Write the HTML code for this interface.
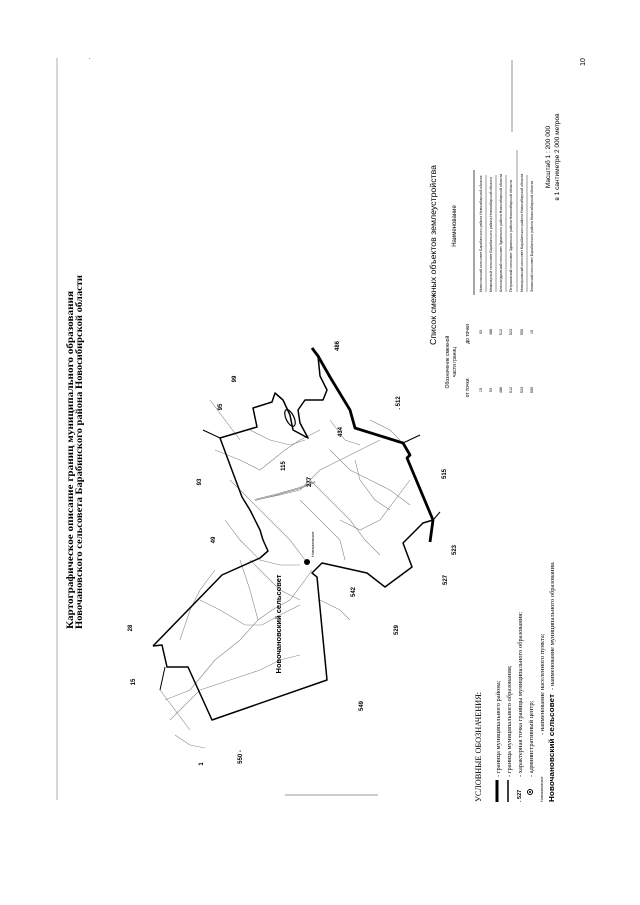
<!DOCTYPE html>
<html><head><meta charset="utf-8"><style>
html,body{margin:0;padding:0;background:#fff;}
svg{display:block;}
text{font-family:"Liberation Sans",sans-serif;fill:#000;}
.s{font-family:"Liberation Serif",serif;}
</style></head><body>
<svg width="640" height="905" viewBox="0 0 640 905" xmlns="http://www.w3.org/2000/svg">
<rect width="640" height="905" fill="#fff"/>
<!-- frame lines -->
<line x1="57" y1="58" x2="57" y2="800" stroke="#999" stroke-width="0.8"/>
<line x1="512" y1="60" x2="512" y2="132" stroke="#777" stroke-width="0.8"/>
<line x1="285" y1="795" x2="378" y2="795" stroke="#999" stroke-width="1"/>
<rect x="89" y="58" width="1" height="1" fill="#999"/>

<!-- titles -->
<text class="s" transform="translate(73,460) rotate(-90)" text-anchor="middle" font-size="9" font-weight="bold" textLength="338" lengthAdjust="spacingAndGlyphs">Картографическое описание границ муниципального образования</text>
<text class="s" transform="translate(82,452) rotate(-90)" text-anchor="middle" font-size="9" font-weight="bold" textLength="354" lengthAdjust="spacingAndGlyphs">Новочановского сельсовета Барабинского района Новосибирской области</text>

<!-- roads (gray) -->
<g fill="none" stroke="#888" stroke-width="0.6">
<polyline points="165,700 190,690 215,660 240,640 258,620 272,610 290,600 305,580 312,570"/>
<polyline points="170,720 185,705 200,690 230,680 260,670 280,660 300,655"/>
<polyline points="200,600 220,610 245,625 262,625 280,615 300,605"/>
<polyline points="240,560 250,590 258,620"/>
<polyline points="225,520 240,540 260,560 280,565 300,565"/>
<polyline points="230,480 250,500 270,520 290,540 305,560"/>
<polyline points="255,500 280,495 300,490 320,470 340,460 360,450 380,440"/>
<polyline points="215,450 240,460 260,470 285,450 300,440 320,430"/>
<polyline points="250,430 270,440 290,445 305,440"/>
<polyline points="310,480 330,500 350,520 365,540 380,555"/>
<polyline points="300,500 320,520 340,540 345,560"/>
<polyline points="330,450 350,470 370,480 390,490 410,505"/>
<polyline points="355,460 360,480 375,500 390,510"/>
<polyline points="340,520 360,530 380,520 395,500 410,480"/>
<polyline points="180,640 190,610 200,590 215,570"/>
<polyline points="320,600 340,610 350,620"/>
<polyline points="210,400 225,420 240,440"/>
<polyline points="370,420 390,430 400,440"/>
<polyline points="330,420 345,440 360,445"/>
<polyline points="250,560 265,575 280,590 300,600"/>
<polyline points="175,735 190,745 205,748"/>
<polyline points="160,690 175,710 190,730"/>
</g>
<polyline points="255,500 275,495 300,488 315,482" fill="none" stroke="#666" stroke-width="1.6"/>
<polyline points="255,500 275,495 300,488 315,482" fill="none" stroke="#fff" stroke-width="0.5"/>

<!-- municipal boundary -->
<polyline fill="none" stroke="#000" stroke-width="1.5" stroke-linejoin="round" points="153,646 222,575 260,558 268,551 263,540 260,530 250,510 242,497 233,473 220,438 257,427 253,408 272,402 275,393 283,400 290,415 293,430 308,438 300,423 298,410 305,400 323,400 327,390 320,376 318,356"/>
<polyline fill="none" stroke="#000" stroke-width="1.5" stroke-linejoin="round" points="433,520 423,523 403,543 412,567 385,587 367,573 322,563 312,573 317,577 327,680 212,720 188,667 167,667 162,645 153,646"/>
<line x1="220" y1="438" x2="203" y2="430" stroke="#000" stroke-width="1"/>
<line x1="165" y1="667" x2="160" y2="690" stroke="#000" stroke-width="1"/>
<ellipse cx="290" cy="418" rx="4" ry="9" fill="none" stroke="#000" stroke-width="1.2" transform="rotate(-25 290 418)"/>
<!-- district boundary thick -->
<polyline fill="none" stroke="#000" stroke-width="2.8" stroke-linejoin="round" points="312,348 318,356 330,377 350,410 355,428 403,443 410,455 407,458 433,520 430,542"/>
<line x1="403" y1="443" x2="420" y2="435" stroke="#000" stroke-width="1"/>
<line x1="433" y1="520" x2="440" y2="512" stroke="#000" stroke-width="1"/>
<circle cx="307" cy="562" r="3" fill="#000"/>
<text transform="translate(314,557) rotate(-90)" font-size="3.6" text-anchor="start">Новочановское</text>

<!-- labels -->
<g font-size="6" font-weight="bold" text-anchor="middle">
<text transform="translate(135,682) rotate(-90)">15</text>
<text transform="translate(132,628) rotate(-90)">28</text>
<text transform="translate(203,764) rotate(-90)">1</text>
<text transform="translate(242,757) rotate(-90)">550 -</text>
<text transform="translate(363,706) rotate(-90)">549</text>
<text transform="translate(398,630) rotate(-90)">529</text>
<text transform="translate(355,592) rotate(-90)">542</text>
<text transform="translate(447,580) rotate(-90)">527</text>
<text transform="translate(456,550) rotate(-90)">523</text>
<text transform="translate(446,474) rotate(-90)">515</text>
<text transform="translate(400,403) rotate(-90)">. 512</text>
<text transform="translate(339,346) rotate(-90)">486</text>
<text transform="translate(342,432) rotate(-90)">434</text>
<text transform="translate(285,466) rotate(-90)">115</text>
<text transform="translate(311,482) rotate(-90)">277</text>
<text transform="translate(201,482) rotate(-90)">93</text>
<text transform="translate(215,540) rotate(-90)">49</text>
<text transform="translate(222,407) rotate(-90)">95</text>
<text transform="translate(236,379) rotate(-90)">99</text>
</g>
<text transform="translate(281,624) rotate(-90)" font-size="7.5" font-weight="bold" text-anchor="middle">Новочановский сельсовет</text>

<!-- legend -->
<text class="s" transform="translate(481,802) rotate(-90)" font-size="8" textLength="110" lengthAdjust="spacingAndGlyphs">УСЛОВНЫЕ ОБОЗНАЧЕНИЯ:</text>
<line x1="497" y1="802" x2="497" y2="780" stroke="#000" stroke-width="3"/>
<text class="s" transform="translate(500,777) rotate(-90)" font-size="6.5">-   граница муниципального района;</text>
<line x1="508" y1="802" x2="508" y2="780" stroke="#000" stroke-width="1.5"/>
<text class="s" transform="translate(511,777) rotate(-90)" font-size="6.5">-   граница муниципального образования;</text>
<text transform="translate(521,802) rotate(-90)" font-size="5.5" font-weight="bold">. 527</text>
<text class="s" transform="translate(522,777) rotate(-90)" font-size="6.5">-   характерная точка границы муниципального образования;</text>
<circle cx="530" cy="792" r="2.5" fill="none" stroke="#000" stroke-width="1"/>
<circle cx="530" cy="792" r="1" fill="#000"/>
<text class="s" transform="translate(533,777) rotate(-90)" font-size="6.5">-   административный центр;</text>
<text transform="translate(543,802) rotate(-90)" font-size="3.6">Новочановское</text>
<text class="s" transform="translate(544,735) rotate(-90)" font-size="6.5">-   наименование населенного пункта;</text>
<text transform="translate(554,802) rotate(-90)" font-size="7" font-weight="bold" textLength="108" lengthAdjust="spacingAndGlyphs">Новочановский сельсовет</text>
<text class="s" transform="translate(554,690) rotate(-90)" font-size="6.5">-   наименование муниципального образования.</text>

<!-- table -->
<text transform="translate(436,255) rotate(-90)" font-size="8.5" text-anchor="middle" textLength="180" lengthAdjust="spacingAndGlyphs">Список смежных объектов землеустройства</text>
<text transform="translate(449,362) rotate(-90)" font-size="5" text-anchor="middle">Обозначение смежной</text>
<text transform="translate(456,362) rotate(-90)" font-size="5" text-anchor="middle">части границ</text>
<text transform="translate(469,388) rotate(-90)" font-size="5" text-anchor="middle">от точки</text>
<text transform="translate(469,334) rotate(-90)" font-size="5" text-anchor="middle">до точки</text>
<text transform="translate(456,226) rotate(-90)" font-size="6" text-anchor="middle">Наименование</text>
<line x1="474" y1="295" x2="474" y2="170" stroke="#000" stroke-width="0.7"/>
<g font-size="3.8" text-anchor="middle">
<text transform="translate(482,390) rotate(-90)">15</text><text transform="translate(482,332) rotate(-90)">93</text>
<text transform="translate(492,390) rotate(-90)">93</text><text transform="translate(492,332) rotate(-90)">486</text>
<text transform="translate(502,390) rotate(-90)">486</text><text transform="translate(502,332) rotate(-90)">512</text>
<text transform="translate(512,390) rotate(-90)">512</text><text transform="translate(512,332) rotate(-90)">523</text>
<text transform="translate(523,390) rotate(-90)">523</text><text transform="translate(523,332) rotate(-90)">550</text>
<text transform="translate(533,390) rotate(-90)">550</text><text transform="translate(533,332) rotate(-90)">15</text>
</g>
<g font-size="3.5">
<text transform="translate(482,292) rotate(-90)">Новоспасский сельсовет Барабинского района Новосибирской области</text>
<text transform="translate(492,292) rotate(-90)">Межозерный сельсовет Барабинского района Новосибирской области</text>
<text transform="translate(502,292) rotate(-90)">Александровский сельсовет Здвинского района Новосибирской области</text>
<text transform="translate(512,292) rotate(-90)">Петраковский сельсовет Здвинского района Новосибирской области</text>
<text transform="translate(523,292) rotate(-90)">Новоярковский сельсовет Барабинского района Новосибирской области</text>
<text transform="translate(533,292) rotate(-90)">Зюзинский сельсовет Барабинского района Новосибирской области</text>
</g>
<g stroke="#000" stroke-width="0.4">
<line x1="486" y1="292" x2="486" y2="175"/><line x1="496" y1="292" x2="496" y2="175"/>
<line x1="506" y1="292" x2="506" y2="175"/><line x1="517" y1="292" x2="517" y2="150"/>
<line x1="527" y1="292" x2="527" y2="175"/>
</g>
<text transform="translate(550,157) rotate(-90)" font-size="6.5" text-anchor="middle">Масштаб 1 : 200 000</text>
<text transform="translate(559,157) rotate(-90)" font-size="6.5" text-anchor="middle">в 1 сантиметре 2 000 метров</text>
<text transform="translate(585,62) rotate(-90)" font-size="7" text-anchor="middle">10</text>
</svg>
</body></html>
